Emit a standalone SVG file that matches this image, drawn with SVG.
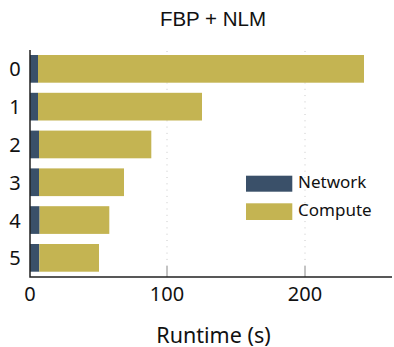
<svg xmlns="http://www.w3.org/2000/svg" width="394" height="347" viewBox="0 0 394 347">
  <style>
    .lbl { font-family: "Noto Sans", "Open Sans", sans-serif; fill: #111; }
    .tick { font-size: 20px; text-anchor: middle; }
    .cat { font-size: 20px; text-anchor: middle; }
    .leg { font-size: 17px; }
    .net { fill: #3a5069; }
    .cmp { fill: #c4b452; }
    .grid { stroke: #c8c8c8; stroke-width: 1; stroke-dasharray: 1 5.3; }
    .tk { stroke: #888; stroke-width: 1; }
    .axis { stroke: #222; stroke-width: 1.5; fill: none; }
  </style>
  <rect width="394" height="347" fill="#fff"/>

  <text class="lbl" x="213" y="26" font-size="20.5" text-anchor="middle" style="font-family:'Liberation Sans', Arial, sans-serif">FBP + NLM</text>

  <!-- grid and ticks -->
  <g id="grid">
    <line class="grid" x1="167" y1="51" x2="167" y2="266"/>
    <line class="grid" x1="305" y1="51" x2="305" y2="266"/>
    <line class="tk" x1="167" y1="266" x2="167" y2="277"/>
    <line class="tk" x1="305" y1="266" x2="305" y2="277"/>
  </g>

  <!-- bars: network + compute per row -->
  <g id="bar0"><rect class="net" x="30" y="55" width="8" height="27.7"/><rect class="cmp" x="38" y="55" width="326" height="27.7"/></g>
  <g id="bar1"><rect class="net" x="30" y="92.8" width="8" height="27.7"/><rect class="cmp" x="38" y="92.8" width="164" height="27.7"/></g>
  <g id="bar2"><rect class="net" x="30" y="130.6" width="9" height="27.7"/><rect class="cmp" x="39" y="130.6" width="112.3" height="27.7"/></g>
  <g id="bar3"><rect class="net" x="30" y="168.4" width="9" height="27.7"/><rect class="cmp" x="39" y="168.4" width="85" height="27.7"/></g>
  <g id="bar4"><rect class="net" x="30" y="206.2" width="9.6" height="27.7"/><rect class="cmp" x="39.6" y="206.2" width="69.7" height="27.7"/></g>
  <g id="bar5"><rect class="net" x="30" y="244" width="9.3" height="27.7"/><rect class="cmp" x="39.3" y="244" width="59.7" height="27.7"/></g>

  <!-- axes -->
  <g id="axes">
    <path class="axis" d="M30,50 V277 H392"/>
  </g>

  <!-- category labels -->
  <g id="cats">
    <text class="lbl cat" x="15" y="76">0</text>
    <text class="lbl cat" x="15" y="114">1</text>
    <text class="lbl cat" x="15" y="152">2</text>
    <text class="lbl cat" x="15" y="189.5">3</text>
    <text class="lbl cat" x="15" y="227.5">4</text>
    <text class="lbl cat" x="15" y="265">5</text>
  </g>

  <!-- tick labels -->
  <g id="ticks">
    <text class="lbl tick" x="30" y="301">0</text>
    <text class="lbl tick" x="167" y="301">100</text>
    <text class="lbl tick" x="305" y="301">200</text>
  </g>

  <text class="lbl" x="213.5" y="342.5" font-size="21.5" text-anchor="middle">Runtime (s)</text>

  <!-- legend -->
  <g id="legend">
    <rect class="net" x="246" y="175.7" width="46.3" height="16"/>
    <text class="lbl leg" x="298" y="188.3">Network</text>
    <rect class="cmp" x="246" y="203.3" width="46.3" height="16.7"/>
    <text class="lbl leg" x="298" y="216">Compute</text>
  </g>
</svg>
